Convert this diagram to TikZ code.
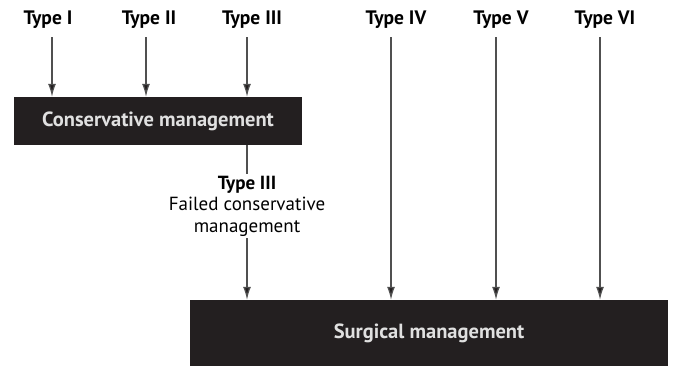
\documentclass[tikz,border=0pt]{standalone}
\usepackage{fontspec}
\setmainfont{PT Sans}
\usepackage{xcolor}
\usetikzlibrary{arrows.meta}
\definecolor{boxblack}{HTML}{231F20}
\definecolor{arrowgray}{HTML}{505050}

\begin{document}
\begin{tikzpicture}[x=1pt,y=-1pt,
  typelabel/.style={font=\fontsize{19.5}{21}\selectfont\bfseries, inner sep=2pt},
  mgmtbox/.style={fill=boxblack, text=white!88!black, inner sep=0pt,
    font=\fontsize{20.5}{22}\selectfont\bfseries},
  flow/.style={-{Latex[length=13pt,width=8pt,fill=boxblack]}, line width=1.3pt, draw=arrowgray}]
\useasboundingbox (0,0) rectangle (675,368);
%% boxes
\node[mgmtbox, minimum width=288, minimum height=48] (cons) at (158,121) {Conservative management};
\node[mgmtbox, minimum width=478, minimum height=66] (surg) at (429,333) {Surgical management};
%% types
\node[typelabel] (t1) at (48,20) {Type I};
\node[typelabel] (t2) at (149,20) {Type II};
\node[typelabel] (t3) at (252,20) {Type III};
\node[typelabel] (t4) at (396,20) {Type IV};
\node[typelabel] (t5) at (501,20) {Type V};
\node[typelabel] (t6) at (605,20) {Type VI};
\draw[flow, shorten <=6] ([xshift=4]t1.south) -- ([xshift=4]t1.south |- cons.north);
\draw[flow, shorten <=6] ([xshift=-3]t2.south) -- ([xshift=-3]t2.south |- cons.north);
\draw[flow, shorten <=6] ([xshift=-5]t3.south) -- ([xshift=-5]t3.south |- cons.north);
\draw[flow, shorten <=6] ([xshift=-5]t4.south) -- ([xshift=-5]t4.south |- surg.north);
\draw[flow, shorten <=6] ([xshift=-5]t5.south) -- ([xshift=-5]t5.south |- surg.north);
\draw[flow, shorten <=6] ([xshift=-5]t6.south) -- ([xshift=-5]t6.south |- surg.north);
%% failed conservative
\node[align=center, inner sep=2pt, font=\fontsize{19}{21.5}\selectfont] (fail) at (247,206)
  {\textbf{Type III}\\Failed conservative\\management};
\draw[line width=1.3pt, draw=arrowgray] (fail.north |- cons.south) -- (fail.north);
\draw[flow] (fail.south) -- (fail.south |- surg.north);
\end{tikzpicture}
\end{document}
